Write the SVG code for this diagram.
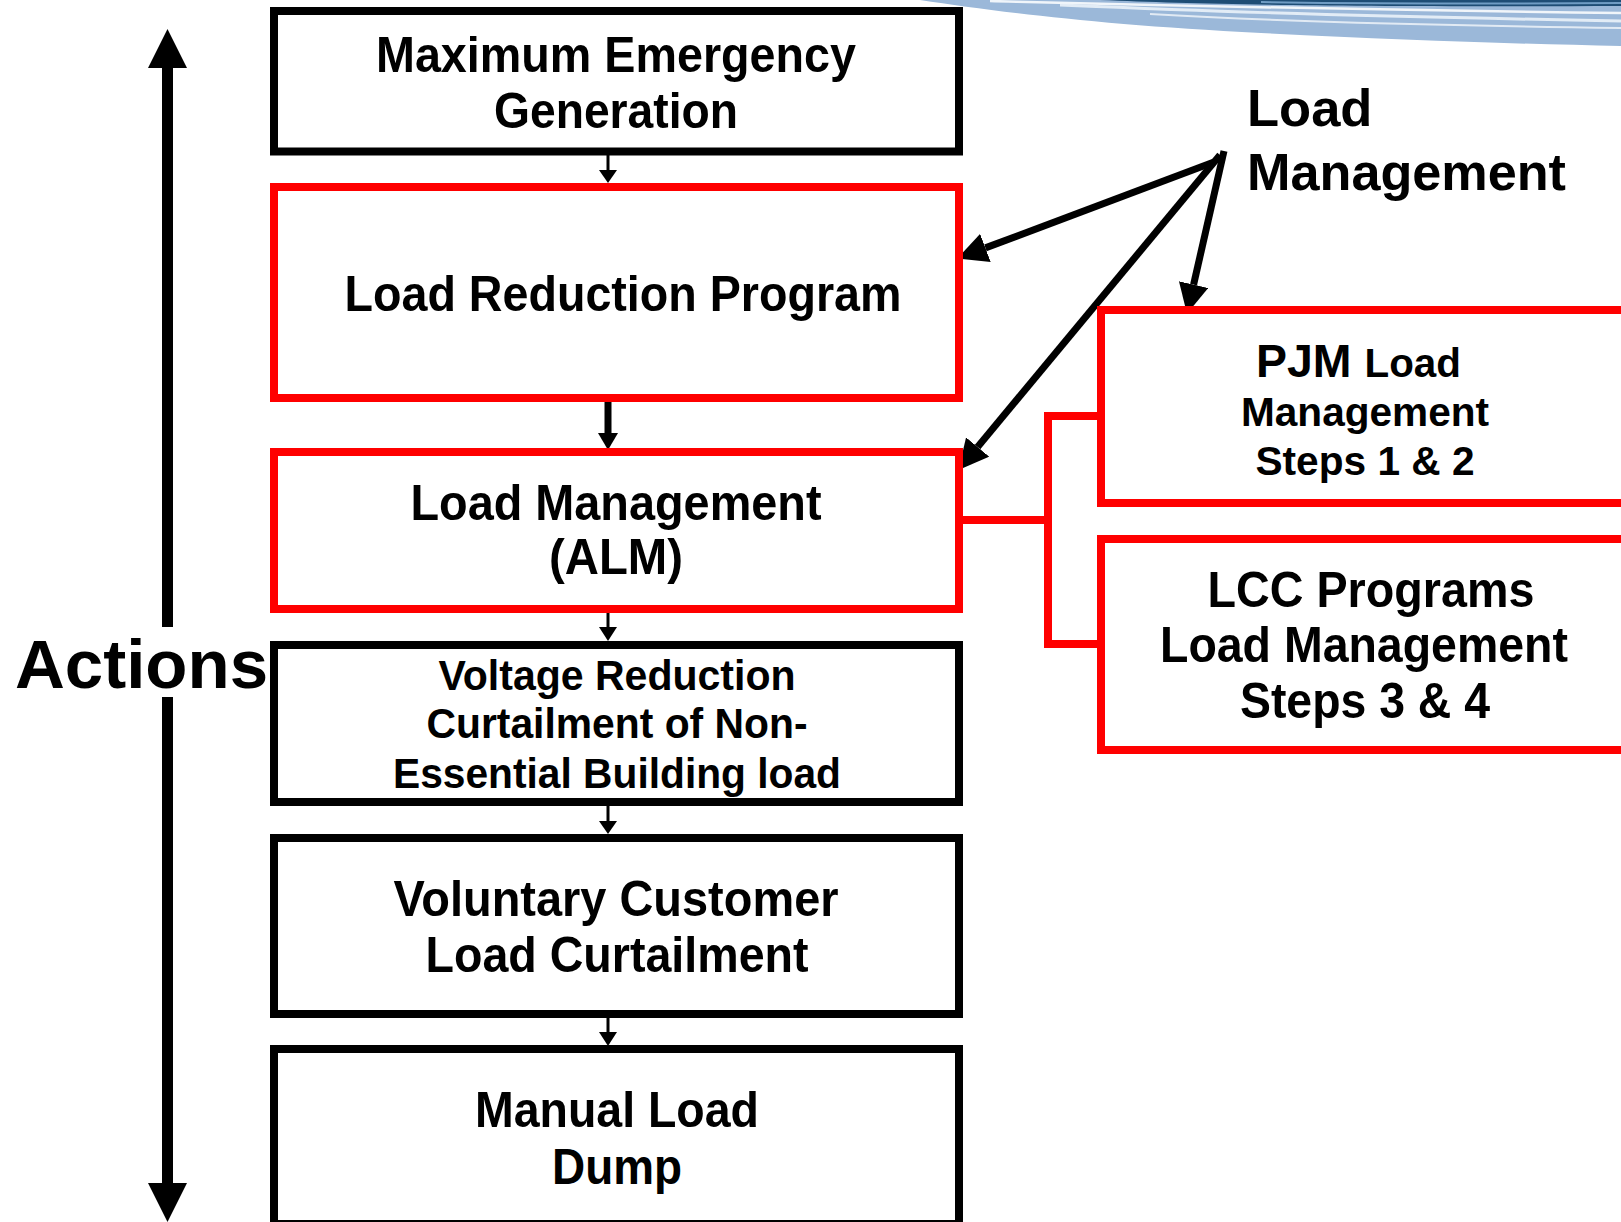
<svg xmlns="http://www.w3.org/2000/svg" width="1621" height="1222" viewBox="0 0 1621 1222">
<style>
.box{fill:#fff;stroke:#000;stroke-width:8}
.rbox{fill:#fff;stroke:#ff0000;stroke-width:8}
.t{font-family:"Liberation Sans",Arial,Helvetica,sans-serif;font-weight:bold;fill:#000}
.m{text-anchor:middle}
.blk{stroke:#000;fill:none}
.red{stroke:#ff0000;stroke-width:8;fill:none}
</style>
<defs>
<marker id="ah" markerUnits="userSpaceOnUse" markerWidth="30" markerHeight="30" refX="0" refY="13" orient="auto" viewBox="0 0 26 26">
<path d="M0,0 L26,13 L0,26 Z" fill="#000"/>
</marker>
</defs>
<rect width="1621" height="1222" fill="#fff"/>
<g id="swoosh">
<path d="M920,0 C1000,12 1100,25 1261,33 C1400,40 1520,44 1621,46 L1621,0 Z" fill="#9bb8d9"/>
<path d="M1100,0 C1200,4 1300,7 1621,6 L1621,0 Z" fill="#1e4d75"/>
<path d="M990,1 C1150,5 1300,9 1621,13" stroke="#ffffff" stroke-width="2.5" fill="none" opacity="0.85"/>
<path d="M1060,5 C1180,10 1300,15 1621,21" stroke="#eef4fa" stroke-width="3" fill="none" opacity="0.85"/>
<path d="M1150,14 C1250,20 1400,25 1621,28" stroke="#ffffff" stroke-width="2" fill="none" opacity="0.7"/>
<path d="M1261,2 C1400,4 1500,4 1621,3" stroke="#6f9cc4" stroke-width="2" fill="none"/>
</g>
<g id="connectors">
<rect x="162" y="66" width="11" height="561" fill="#000"/>
<rect x="162" y="697" width="11" height="488" fill="#000"/>
<polygon points="148,68 167.5,29 187,68" fill="#000"/>
<polygon points="148,1183 167.5,1222 187,1183" fill="#000"/>
<line x1="608" y1="155" x2="608" y2="171" stroke="#000" stroke-width="3"/>
<polygon points="599,170 617,170 608,183" fill="#000"/>
<line x1="608" y1="402" x2="608" y2="434" stroke="#000" stroke-width="7"/>
<polygon points="598,433 618,433 608,450" fill="#000"/>
<line x1="608" y1="613" x2="608" y2="628" stroke="#000" stroke-width="3"/>
<polygon points="599,627 617,627 608,641" fill="#000"/>
<line x1="608" y1="806" x2="608" y2="822" stroke="#000" stroke-width="3"/>
<polygon points="599,821 617,821 608,834" fill="#000"/>
<line x1="608" y1="1018" x2="608" y2="1033" stroke="#000" stroke-width="3"/>
<polygon points="599,1032 617,1032 608,1046" fill="#000"/>
<polyline class="red" points="961,520 1048,520"/>
<polyline class="red" points="1101,416 1048,416 1048,644 1101,644"/>
<line class="blk" x1="1214" y1="162" x2="985.4" y2="247.9" stroke-width="7" marker-end="url(#ah)"/>
<line class="blk" x1="1220" y1="155" x2="977.6" y2="447" stroke-width="7" marker-end="url(#ah)"/>
<line class="blk" x1="1224" y1="151" x2="1193.6" y2="284.6" stroke-width="7" marker-end="url(#ah)"/>
</g>
<g id="actions-label">
<text class="t" x="15" y="688" font-size="69">Actions</text>
</g>
<g id="load-management-label">
<text class="t" x="1247" y="126" font-size="52.5">Load</text>
<text class="t" x="1247" y="190" font-size="52.5" textLength="319" lengthAdjust="spacingAndGlyphs">Management</text>
</g>
<g id="node-max-emergency">
<rect class="box" x="274" y="11" width="685" height="140.5"/>
<text class="t m" x="616" y="72" font-size="50" textLength="480" lengthAdjust="spacingAndGlyphs">Maximum Emergency</text>
<text class="t m" x="616" y="128" font-size="50" textLength="244" lengthAdjust="spacingAndGlyphs">Generation</text>
</g>
<g id="node-load-reduction">
<rect class="rbox" x="274" y="187" width="685" height="211"/>
<text class="t m" x="623" y="311" font-size="50" textLength="557" lengthAdjust="spacingAndGlyphs">Load Reduction Program</text>
</g>
<g id="node-alm">
<rect class="rbox" x="274" y="452" width="685" height="157"/>
<text class="t m" x="616" y="520" font-size="50" textLength="411" lengthAdjust="spacingAndGlyphs">Load Management</text>
<text class="t m" x="616" y="574" font-size="50" textLength="134" lengthAdjust="spacingAndGlyphs">(ALM)</text>
</g>
<g id="node-voltage">
<rect class="box" x="274" y="645" width="685" height="157"/>
<text class="t m" x="617" y="690" font-size="43" textLength="357" lengthAdjust="spacingAndGlyphs">Voltage Reduction</text>
<text class="t m" x="617" y="738" font-size="43" textLength="381" lengthAdjust="spacingAndGlyphs">Curtailment of Non-</text>
<text class="t m" x="617" y="788" font-size="43" textLength="448" lengthAdjust="spacingAndGlyphs">Essential Building load</text>
</g>
<g id="node-voluntary">
<rect class="box" x="274" y="838" width="685" height="176"/>
<text class="t m" x="616" y="916" font-size="50" textLength="445" lengthAdjust="spacingAndGlyphs">Voluntary Customer</text>
<text class="t m" x="617" y="972" font-size="50" textLength="383" lengthAdjust="spacingAndGlyphs">Load Curtailment</text>
</g>
<g id="node-manual">
<rect class="box" x="274" y="1049" width="685" height="175"/>
<text class="t m" x="617" y="1127" font-size="50" textLength="284" lengthAdjust="spacingAndGlyphs">Manual Load</text>
<text class="t m" x="617" y="1184" font-size="50" textLength="130" lengthAdjust="spacingAndGlyphs">Dump</text>
</g>
<g id="node-pjm">
<rect class="rbox" x="1101" y="310" width="600" height="193"/>
<text class="t" x="1256" y="377" textLength="205" lengthAdjust="spacingAndGlyphs"><tspan font-size="46">PJM </tspan><tspan font-size="40">Load</tspan></text>
<text class="t m" x="1365" y="426" font-size="40" textLength="248" lengthAdjust="spacingAndGlyphs">Management</text>
<text class="t m" x="1365" y="475" font-size="40" textLength="219" lengthAdjust="spacingAndGlyphs">Steps 1 &amp; 2</text>
</g>
<g id="node-lcc">
<rect class="rbox" x="1101" y="539" width="600" height="211"/>
<text class="t m" x="1371" y="607" font-size="50" textLength="327" lengthAdjust="spacingAndGlyphs">LCC Programs</text>
<text class="t m" x="1364" y="662" font-size="50" textLength="408" lengthAdjust="spacingAndGlyphs">Load Management</text>
<text class="t m" x="1365" y="718" font-size="50" textLength="250" lengthAdjust="spacingAndGlyphs">Steps 3 &amp; 4</text>
</g>
</svg>
